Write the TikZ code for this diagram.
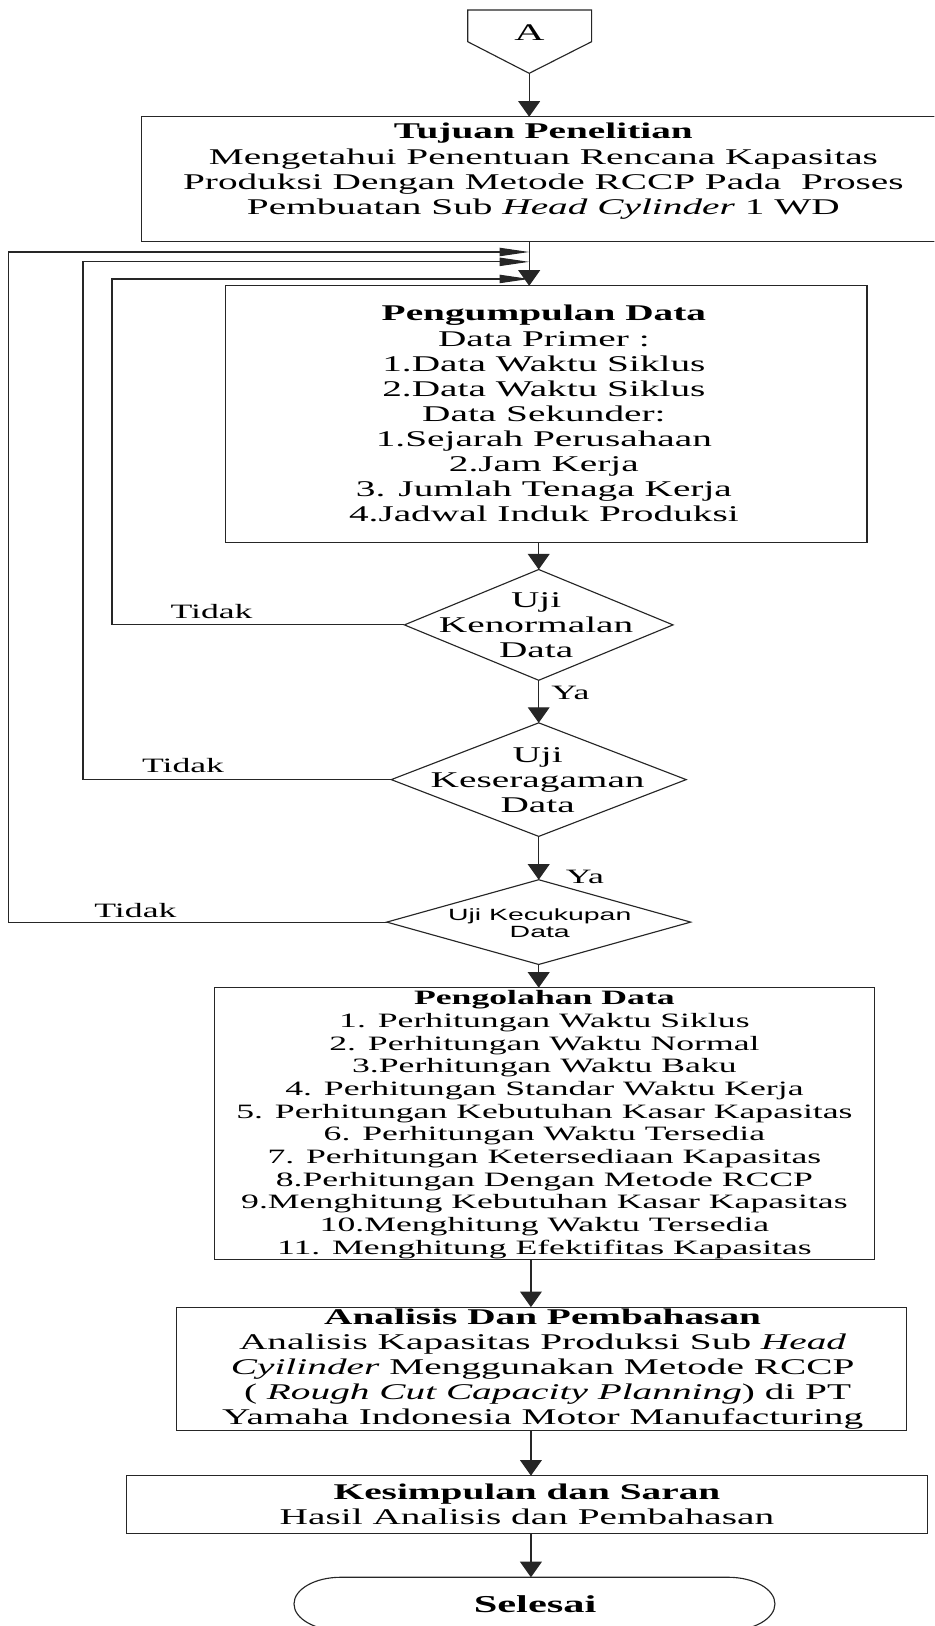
\documentclass[tikz,border=0pt]{standalone}
\usepackage{fontspec}
\setmainfont{Liberation Serif}
\newfontfamily\arialfont{Liberation Sans}
\usepackage{graphicx}
\usetikzlibrary{arrows.meta,shapes.geometric}

% wide, horizontally stretched lettering
\newcommand{\widetxt}[1]{\scalebox{1.75}[1]{#1}}
\newcommand{\flowlines}[1]{\widetxt{\begin{tabular}[t]{@{}c@{}}#1\end{tabular}}}
\newcommand{\fmain}{\fontsize{10.83}{12.1}\selectfont}
\newcommand{\fsmall}{\fontsize{9.83}{10.93}\selectfont}
\newcommand{\fsans}{\arialfont\fontsize{7.83}{8.05}\selectfont}

\tikzset{
  line/.style={draw=black!85, line width=0.55pt},
  box/.style={line, rectangle, inner sep=0pt, outer sep=0pt},
  decision/.style={line, diamond, inner sep=0pt, outer sep=0pt},
  txt/.style={inner sep=0pt, anchor=base, font=\fmain},
  smalltxt/.style={inner sep=0pt, anchor=base, font=\fsmall},
  arrV/.style={line, -{Triangle[length=7.5pt,width=10.5pt]}},
  arrH/.style={line, -{Triangle[length=14.3pt,width=4pt]}},
}

\begin{document}
\begin{tikzpicture}[x=0.5pt, y=-0.5pt]
\useasboundingbox (0,0) rectangle (901,1568);
\clip (0,0) rectangle (901,1568);

% off-page connector A
\coordinate (Atip) at (510.3,70.7);
\draw[line] (451,9.6) -- (570.5,9.6) -- (570.5,40.2) -- (Atip) -- (451,40.2) -- cycle;
\node[txt, font=\fontsize{11.5}{13}\selectfont] (Alabel) at (510.5,39) {\widetxt{A}};

% process boxes
\node[box, minimum width=387.15pt, minimum height=59.95pt] (tujuan) at (523.85,172.55) {};
\node[txt] (tujuanT) at (524,134) {\flowlines{\textbf{Tujuan Penelitian}\\
  Mengetahui Penentuan Rencana Kapasitas\\
  Produksi Dengan Metode RCCP Pada\ \ Proses\\
  Pembuatan Sub \textit{Head Cylinder} 1 WD}};

\node[box, minimum width=309.45pt, minimum height=123.95pt] (kumpul) at (526.55,399.55) {};
\node[txt] (kumpulT) at (524.5,309.5) {\flowlines{\textbf{Pengumpulan Data}\\
  Data Primer :\\
  1.Data Waktu Siklus\\
  2.Data Waktu Siklus\\
  Data Sekunder:\\
  1.Sejarah Perusahaan\\
  2.Jam Kerja\\
  3. Jumlah Tenaga Kerja\\
  4.Jadwal Induk Produksi}};

% decisions
\node[decision, minimum width=129.5pt, minimum height=53.4pt] (d1) at (519.5,602.6) {};
\node[txt] (d1T) at (517,586) {\flowlines{Uji\\Kenormalan\\Data}};

\node[decision, minimum width=142.2pt, minimum height=54.75pt] (d2) at (519.5,751.8) {};
\node[txt] (d2T) at (518.5,735.3) {\flowlines{Uji\\Keseragaman\\Data}};

\node[decision, minimum width=146.5pt, minimum height=40.85pt] (d3) at (519.5,889.2) {};
\node[inner sep=0pt, anchor=base, font=\fsans] (d3T) at (520.5,887.5) {\flowlines{Uji Kecukupan\\Data}};

\node[box, minimum width=318.25pt, minimum height=131.05pt] (olah) at (525.05,1083.55) {};
\node[smalltxt] (olahT) at (525,969) {\flowlines{\textbf{Pengolahan Data}\\
  1. Perhitungan Waktu Siklus\\
  2. Perhitungan Waktu Normal\\
  3.Perhitungan Waktu Baku\\
  4. Perhitungan Standar Waktu Kerja\\
  5. Perhitungan Kebutuhan Kasar Kapasitas\\
  6. Perhitungan Waktu Tersedia\\
  7. Perhitungan Ketersediaan Kapasitas\\
  8.Perhitungan Dengan Metode RCCP\\
  9.Menghitung Kebutuhan Kasar Kapasitas\\
  10.Menghitung Waktu Tersedia\\
  11. Menghitung Efektifitas Kapasitas}};

\node[box, minimum width=352.35pt, minimum height=59.5pt] (analisis) at (522.15,1320) {};
\node[txt] (analisisT) at (523.3,1277) {\flowlines{\textbf{Analisis Dan Pembahasan}\\
  Analisis Kapasitas Produksi Sub \textit{Head}\\
  \textit{Cyilinder} Menggunakan Metode RCCP\\
  \ ( \textit{Rough Cut Capacity Planning}) di PT\\
  Yamaha Indonesia Motor Manufacturing}};

\node[box, minimum width=386.4pt, minimum height=28pt] (kes) at (508.4,1451) {};
\node[txt] (kesT) at (508.2,1446) {\flowlines{\textbf{Kesimpulan dan Saran}\\
  Hasil Analisis dan Pembahasan}};

% terminator
\coordinate (selesaiTop) at (512,1521);
\draw[line] (328.5,1521) -- (702.3,1521)
  arc[start angle=90, end angle=-90, x radius=22.5pt, y radius=12.85pt]
  -- (328.5,1572.4)
  arc[start angle=270, end angle=90, x radius=22.5pt, y radius=12.85pt];
\node[txt, font=\fontsize{11.7}{13}\selectfont] (selesai) at (516,1554.7) {\widetxt{\textbf{Selesai}}};

% main flow
\coordinate (lowx) at (512,0);
\draw[arrV] (Atip) -- (Atip |- tujuan.north);
\draw[arrV] (Atip |- tujuan.south) -- (Atip |- kumpul.north);
\draw[arrV] (d1.north |- kumpul.south) -- (d1.north);
\draw[arrV] (d1.south) -- (d2.north);
\draw[arrV] (d2.south) -- (d3.north);
\draw[arrV] (d3.south) -- (d3.south |- olah.north);
\draw[arrV] (lowx |- olah.south) -- (lowx |- analisis.north);
\draw[arrV] (lowx |- analisis.south) -- (lowx |- kes.north);
\draw[arrV] (lowx |- kes.south) -- (selesaiTop);

% loops back to data collection
\coordinate (fb1) at (108,269);
\coordinate (fb2) at (80,252.5);
\coordinate (fb3) at (8.6,243);
\draw[arrH] (d1.west) -| (fb1) -- (fb1 -| Atip);
\draw[arrH] (d2.west) -| (fb2) -- (fb2 -| Atip);
\draw[arrH] (d3.west) -| (fb3) -- (fb3 -| Atip);

% branch labels
\node[smalltxt] (tidak1) at (204,596.5) {\widetxt{Tidak}};
\node[smalltxt] (tidak2) at (176.5,745) {\widetxt{Tidak}};
\node[smalltxt] (tidak3) at (130.6,884.5) {\widetxt{Tidak}};
\node[smalltxt] (ya1) at (550,675) {\widetxt{Ya}};
\node[smalltxt] (ya2) at (564,852) {\widetxt{Ya}};
\end{tikzpicture}
\end{document}
